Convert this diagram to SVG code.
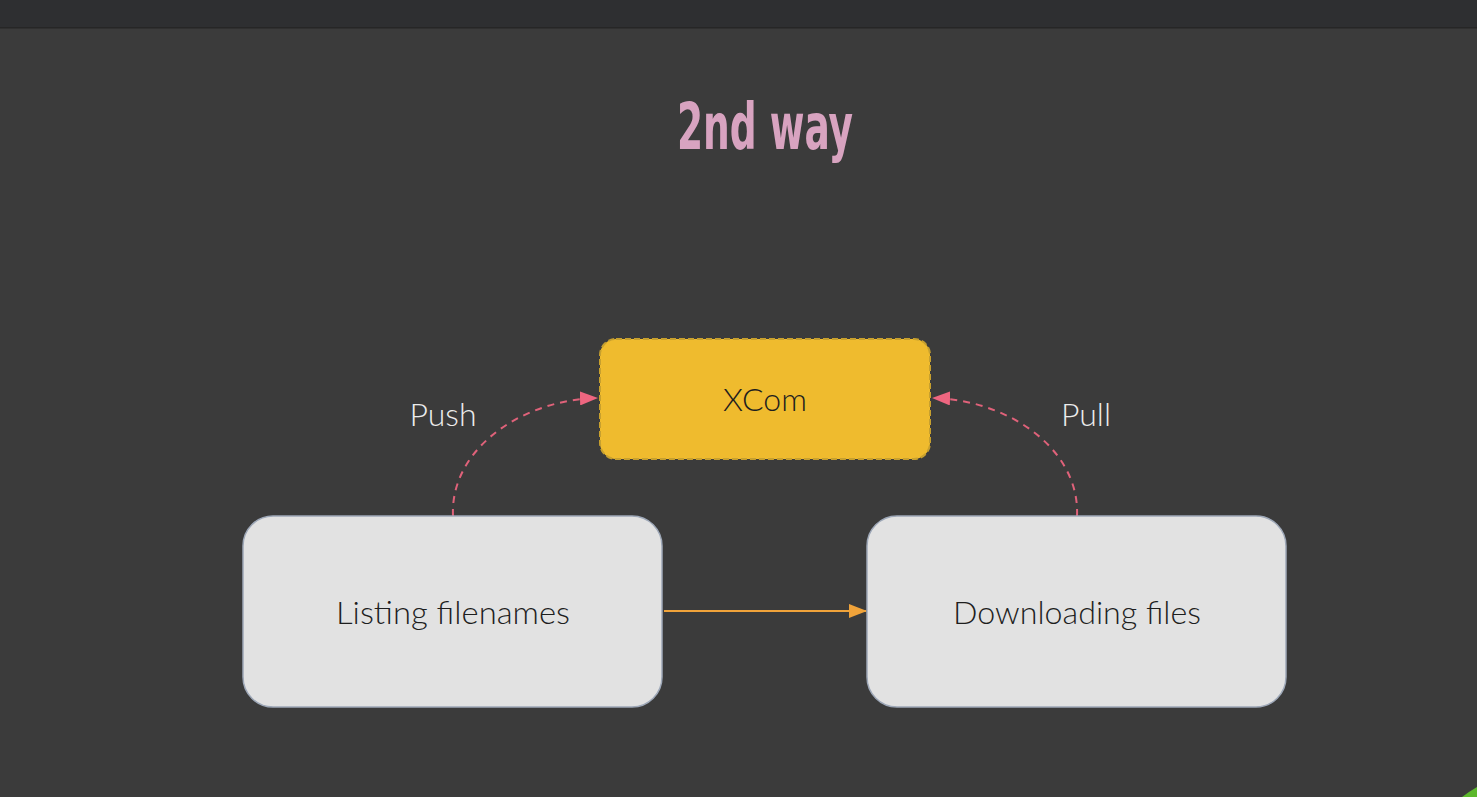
<svg xmlns="http://www.w3.org/2000/svg" width="1477" height="797" viewBox="0 0 1477 797">
<style>
.node{fill:#e2e2e2;stroke:#9ea8b8;stroke-width:1.5}
.lbl{font-family:Lato,"Open Sans","Liberation Sans",sans-serif;font-weight:300;fill:#1e1e1e;font-size:32px;text-anchor:middle}
.edge{font-family:Lato,"Open Sans","Liberation Sans",sans-serif;font-weight:300;fill:#ececec;font-size:32px;text-anchor:middle}
.dash{fill:none;stroke:#e0627a;stroke-width:2;stroke-dasharray:7 6}
</style>
<defs>
<marker id="pink" markerWidth="18" markerHeight="14" refX="17" refY="7" orient="auto" markerUnits="userSpaceOnUse"><path d="M0,0 L18,7 L0,14 Z" fill="#ee6680"/></marker>
<marker id="orange" markerWidth="18" markerHeight="14" refX="17" refY="7" orient="auto" markerUnits="userSpaceOnUse"><path d="M0,0 L18,7 L0,14 Z" fill="#f0a33a"/></marker>
</defs>
<rect x="0" y="0" width="1477" height="797" fill="#3b3b3b"/>
<rect x="0" y="0" width="1477" height="27" fill="#2e2f31"/>
<rect x="0" y="27" width="1477" height="1.5" fill="#262626"/>
<path d="M1462,797 Q1470,791 1477,787 L1477,797 Z" fill="#5cb82c"/>
<text x="765" y="149" font-family="'DejaVu Sans','Liberation Sans',sans-serif" font-stretch="condensed" font-weight="bold" font-size="64" fill="#d8a3c0" text-anchor="middle" textLength="176" lengthAdjust="spacingAndGlyphs">2nd way</text>
<g id="connectors">
<path class="dash" d="M453,516 C450,450 520,400 597,398" marker-end="url(#pink)"/>
<path class="dash" d="M1077,516 C1080,450 1010,400 933,398" marker-end="url(#pink)"/>
<line x1="664" y1="611" x2="866" y2="611" stroke="#f0a33a" stroke-width="2" marker-end="url(#orange)"/>
<text class="edge" x="443" y="426">Push</text>
<text class="edge" x="1086" y="426">Pull</text>
</g>
<g id="xcom">
<rect x="600" y="339" width="330" height="120" rx="16" fill="#efbb2e" stroke="#c7a02e" stroke-width="2" stroke-dasharray="6 3"/>
<text class="lbl" x="765" y="411">XCom</text>
</g>
<g id="listing">
<rect class="node" x="243" y="516" width="419" height="191" rx="30"/>
<text class="lbl" x="453" y="624" textLength="234" lengthAdjust="spacingAndGlyphs">Listing filenames</text>
</g>
<g id="downloading">
<rect class="node" x="867" y="516" width="419" height="191" rx="30"/>
<text class="lbl" x="1077" y="624" textLength="248" lengthAdjust="spacingAndGlyphs">Downloading files</text>
</g>
</svg>
